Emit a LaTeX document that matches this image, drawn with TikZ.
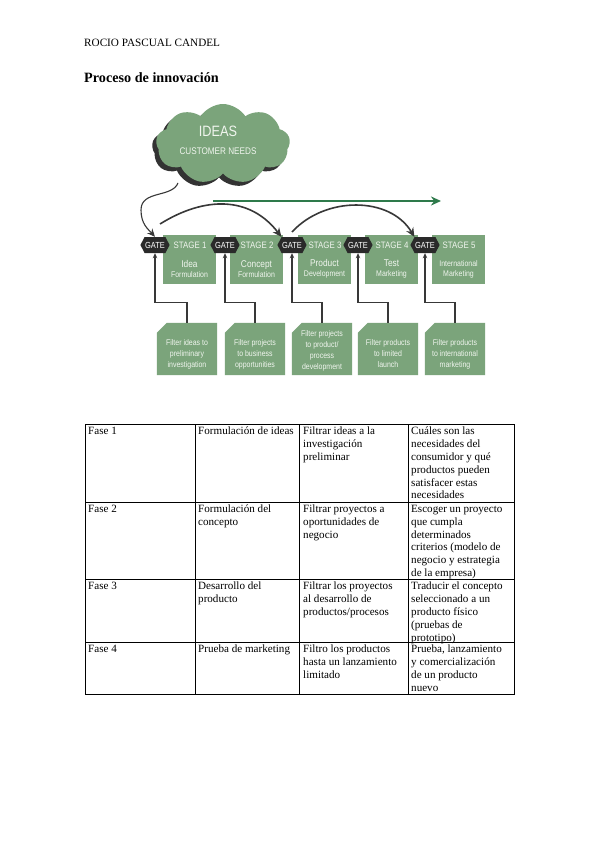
\documentclass[tikz,border=0pt]{standalone}
\usepackage{fontspec}
\setmainfont{Liberation Serif}
\newfontfamily\cond[FakeStretch=0.85]{Liberation Sans}
\usetikzlibrary{shapes.symbols,arrows.meta,calc}
\definecolor{sgreen}{HTML}{7BA47B}
\definecolor{sgreendark}{HTML}{2E7A4B}
\definecolor{gatec}{HTML}{2A2A2A}
\definecolor{shadowc}{HTML}{333333}
\definecolor{boxtxt}{HTML}{F0F5EE}
\definecolor{linec}{HTML}{383838}
\begin{document}
\begin{tikzpicture}[x=1pt,y=-1pt,
  gate/.style={signal, signal to=east and west, signal pointer angle=125, fill=gatec, text=white,
    font=\cond\fontsize{8.8}{9}\selectfont, inner xsep=0.5pt, inner ysep=1pt, minimum height=16pt},
  stagebox/.style={rectangle, fill=sgreen, minimum width=53pt, minimum height=49pt, inner sep=0pt},
  stagelbl/.style={text=boxtxt, font=\cond\fontsize{9.3}{9}\selectfont, inner sep=0pt},
  stagesub/.style={text=boxtxt, align=center, inner sep=0pt, font=\cond\fontsize{9.8}{11}\selectfont},
  filterbox/.style={minimum width=60pt, minimum height=52pt, inner sep=0pt, align=center, text=boxtxt,
    font=\cond\fontsize{8.2}{11}\selectfont},
  conn/.style={draw=linec, line width=1.2pt, -{Stealth[length=5pt,width=4.5pt]}},
  arc/.style={draw=linec, line width=1.6pt, -{Stealth[length=9pt,width=8pt]}},
  cell/.style={anchor=north west, inner sep=0pt, align=left, font=\fontsize{11.1}{12.8}\selectfont}
]
\useasboundingbox (0,0) rectangle (599,848);
\fill[white] (0,0) rectangle (599,848);

% header
\node[anchor=west, inner sep=0pt, font=\fontsize{11.2}{12}\selectfont] (author) at (84,43) {ROCIO PASCUAL CANDEL};
\node[anchor=west, inner sep=0pt, font=\bfseries\fontsize{14.2}{15}\selectfont] (title) at (84,78) {Proceso de innovación};

% cloud
\node[cloud, cloud puffs=9, cloud puff arc=115, aspect=1.7, minimum width=134pt, minimum height=80pt, fill=shadowc, inner sep=0pt] (cloudsh) at (219,148) {};
\node[cloud, cloud puffs=9, cloud puff arc=115, aspect=1.7, minimum width=134pt, minimum height=80pt, fill=sgreen, inner sep=0pt] (cloud) at (223,144) {};
\node[text=boxtxt, inner sep=0pt, font=\cond\fontsize{15}{15}\selectfont] (ideas) at (218,131) {IDEAS};
\node[text=boxtxt, inner sep=0pt, font=\cond\fontsize{9.6}{9}\selectfont] (cneeds) at (218,151) {CUSTOMER NEEDS};

% green arrow
\coordinate (ga) at (213,201);
\coordinate (gb) at (441,201);
\draw[draw=sgreendark, line width=2pt, -{Stealth[length=10pt,width=9pt]}] (ga) -- (gb);

% stage boxes
\foreach \i/\x in {1/163,2/230,3/298,4/365,5/432}{
  \node[stagebox] (s\i) at (\x+26.5,259.5) {};
}
\node[stagelbl] (sl1) at (190,245) {STAGE 1};
\node[stagelbl] (sl2) at (257,245) {STAGE 2};
\node[stagelbl] (sl3) at (325,245) {STAGE 3};
\node[stagelbl] (sl4) at (392,245) {STAGE 4};
\node[stagelbl] (sl5) at (459,245) {STAGE 5};
\node[stagesub] (t1) at (189.5,269) {Idea\\[-1pt]{\fontsize{8.2}{8}\selectfont Formulation}};
\node[stagesub] (t2) at (256.5,269) {Concept\\[-1pt]{\fontsize{8.2}{8}\selectfont Formulation}};
\node[stagesub] (t3) at (324.5,269) {Product\\[-1pt]{\fontsize{8.2}{8}\selectfont Development}};
\node[stagesub] (t4) at (391.5,269) {Test\\[-1pt]{\fontsize{8.2}{8}\selectfont Marketing}};
\node[stagesub, font=\cond\fontsize{8.2}{10.5}\selectfont] (t5) at (458.5,269.5) {International\\Marketing};

% gates
\node[gate] (g1) at (155,245) {GATE};
\node[gate] (g2) at (225,245) {GATE};
\node[gate] (g3) at (292,245) {GATE};
\node[gate] (g4) at (358,245) {GATE};
\node[gate] (g5) at (425,245) {GATE};

% filter boxes (shape)
\node[filterbox] (f1) at (187,349) {};
\node[filterbox] (f2) at (255,349) {};
\node[filterbox] (f3) at (322,349) {};
\node[filterbox] (f4) at (388,349) {};
\node[filterbox] (f5) at (455,349) {};
\foreach \i in {1,...,5}{
  \fill[sgreen] ($(f\i.north west)+(0,10)$) -- ($(f\i.north west)+(10,0)$) -- (f\i.north east) -- (f\i.south east) -- (f\i.south west) -- cycle;
}
\node[filterbox] (f1t) at (187,354) {Filter ideas to\\preliminary\\investigation};
\node[filterbox] (f2t) at (255,354) {Filter projects\\to business\\opportunities};
\node[filterbox] (f3t) at (322,351) {Filter projects\\to product/\\process\\development};
\node[filterbox] (f4t) at (388,354) {Filter products\\to limited\\launch};
\node[filterbox] (f5t) at (455,354) {Filter products\\to international\\marketing};

% connectors from filters to gates
\foreach \i in {1,...,5}{
  \draw[conn] (f\i.north) -- ++(0,-20) -| (g\i.south);
}

% curved arrows
\coordinate (c0) at (178,183);
\draw[draw=linec, line width=1.1pt, -{Stealth[length=8pt,width=7pt]}] (c0) .. controls (172,198) and (141,190) .. (141,210) .. controls (141,224) and (148,229) .. (g1.north);
\coordinate (a1s) at (160,224);
\draw[arc] (a1s) .. controls (205,196) and (250,196) .. (g3.north west);
\coordinate (a2s) at (292,232);
\draw[arc] (a2s) .. controls (325,196) and (390,196) .. (g5.north west);

% table
\draw[line width=0.6pt] (85,424) rectangle (514,694);
\foreach \y in {502,579,642}{ \draw[line width=0.6pt] (85,\y) -- (514,\y); }
\foreach \x in {195,299,408}{ \draw[line width=0.6pt] (\x,424) -- (\x,694); }

\node[cell] (r1a) at (88,427) {Fase 1};
\node[cell] (r1b) at (198,427) {Formulación de ideas};
\node[cell] (r1c) at (303,427) {Filtrar ideas a la\\investigación\\preliminar};
\node[cell] (r1d) at (411,427) {Cuáles son las\\necesidades del\\consumidor y qué\\productos pueden\\satisfacer estas\\necesidades};

\node[cell] (r2a) at (88,505) {Fase 2};
\node[cell] (r2b) at (198,505) {Formulación del\\concepto};
\node[cell] (r2c) at (303,505) {Filtrar proyectos a\\oportunidades de\\negocio};
\node[cell] (r2d) at (411,505) {Escoger un proyecto\\que cumpla\\determinados\\criterios (modelo de\\negocio y estrategia\\de la empresa)};

\node[cell] (r3a) at (88,582) {Fase 3};
\node[cell] (r3b) at (198,582) {Desarrollo del\\producto};
\node[cell] (r3c) at (303,582) {Filtrar los proyectos\\al desarrollo de\\productos/procesos};
\node[cell] (r3d) at (411,582) {Traducir el concepto\\seleccionado a un\\producto físico\\(pruebas de\\prototipo)};

\node[cell] (r4a) at (88,645) {Fase 4};
\node[cell] (r4b) at (198,645) {Prueba de marketing};
\node[cell] (r4c) at (303,645) {Filtro los productos\\hasta un lanzamiento\\limitado};
\node[cell] (r4d) at (411,645) {Prueba, lanzamiento\\y comercialización\\de un producto\\nuevo};
\end{tikzpicture}
\end{document}
